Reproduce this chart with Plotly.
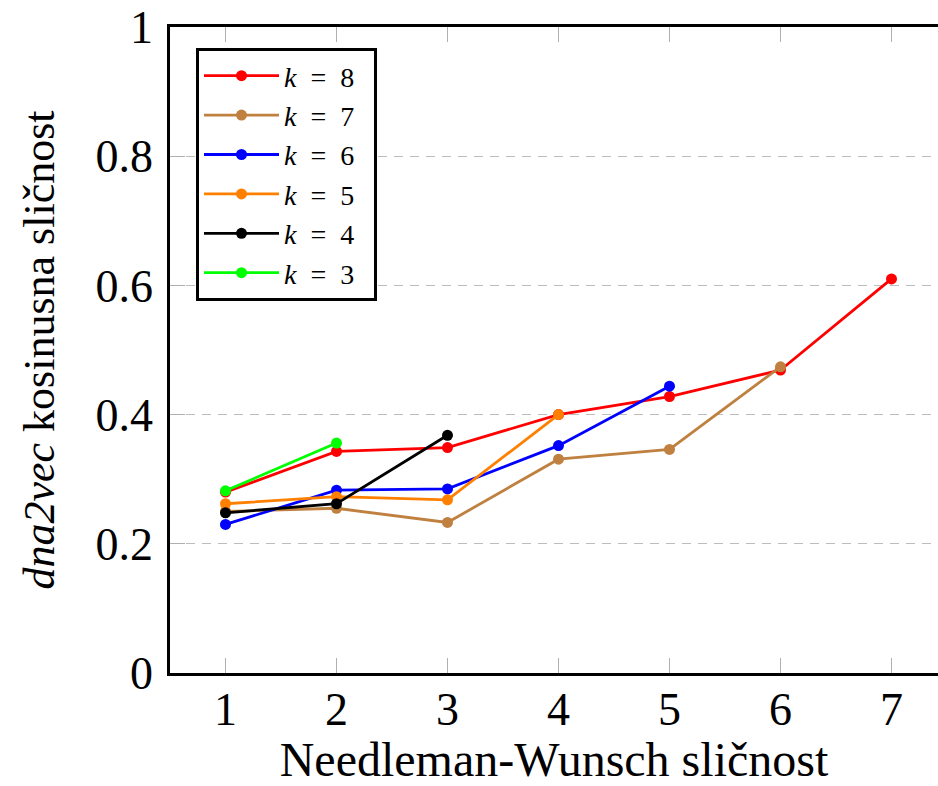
import plotly.graph_objects as go

x_vals = [1, 2, 3, 4, 5, 6, 7]

k8 = [0.280, 0.343, 0.349, 0.400, 0.428, 0.469, 0.610]
k7 = [0.250, 0.255, 0.233, 0.331, 0.346, 0.474]
k6 = [0.230, 0.283, 0.285, 0.352, 0.444]
k5 = [0.262, 0.273, 0.268, 0.400]
k4 = [0.248, 0.262, 0.368]
k3 = [0.282, 0.356]

series = [
    ("8", k8, "#FF0000"),
    ("7", k7, "#BF8040"),
    ("6", k6, "#0000FF"),
    ("5", k5, "#FF8000"),
    ("4", k4, "#000000"),
    ("3", k3, "#00FF00"),
]

y_ticks = [0, 0.2, 0.4, 0.6, 0.8, 1]
y_tick_labels = ["0", "0.2", "0.4", "0.6", "0.8", "1"]

FONT = "Liberation Serif"
SP = "\u00a0\u00a0"

L, T, B = 170, 27, 113
W, H = 938, 786
PX_PER_X = 111

fig = go.Figure()
for k, vals, col in series:
    fig.add_trace(go.Scatter(
        x=x_vals[:len(vals)], y=vals, mode="lines+markers",
        name=f"<i>k</i>{SP}={SP}{k}\u00a0\u00a0",
        line=dict(color=col, width=2.8),
        marker=dict(color=col, size=11),
    ))

fig.update_layout(
    width=W, height=H,
    margin=dict(l=L, r=0, t=T, b=B, autoexpand=False),
    paper_bgcolor="white", plot_bgcolor="white",
    font=dict(family=FONT, color="black", size=46),
    showlegend=True,
    legend=dict(
        x=(196 - L) / (W - L), y=(673 - 48) / (H - T - B),
        xanchor="left", yanchor="top",
        bordercolor="black", borderwidth=3, bgcolor="white",
        font=dict(family=FONT, size=28, color="black"),
        tracegroupgap=0, itemwidth=75,
    ),
)

fig.update_xaxes(
    range=[0.5, 0.5 + (W - L) / PX_PER_X], tickvals=x_vals,
    ticktext=[str(v) for v in x_vals],
    showgrid=False, zeroline=False, automargin=False,
    showline=True, linecolor="black", linewidth=2.7, mirror="ticks",
    ticks="inside", ticklen=15, tickcolor="#b0b0b0", tickwidth=1,
    tickfont=dict(size=46), ticklabelstandoff=-6, ticklabeloverflow="allow",
    title=dict(text="Needleman-Wunsch sličnost", font=dict(size=48), standoff=38),
)
fig.update_yaxes(
    range=[0, 1], tickvals=y_ticks, ticktext=y_tick_labels,
    showgrid=True, gridcolor="#bdbdbd", gridwidth=1.2, griddash="9px,7px",
    zeroline=False, automargin=False,
    showline=True, linecolor="black", linewidth=2.7, mirror=False,
    ticks="inside", ticklen=15, tickcolor="#b0b0b0", tickwidth=1,
    tickfont=dict(size=46), ticklabelstandoff=5, ticklabeloverflow="allow",
    title=dict(text="<i>dna2vec</i> kosinusna sličnost", font=dict(size=44), standoff=28),
)

fig.write_html(
    "out.html",
    config={"displayModeBar": False},
    post_script="document.body.style.margin='0';document.body.style.overflow='hidden';",
)
